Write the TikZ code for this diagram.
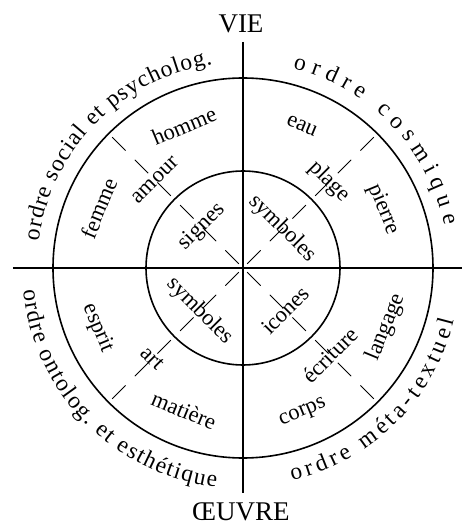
\documentclass[tikz,border=0pt]{standalone}
\usepackage{fontspec}
\setmainfont{Liberation Serif}
\usetikzlibrary{decorations.text}

\begin{document}
\begin{tikzpicture}[x=1pt, y=1pt, every node/.style={font=\fontsize{22.5}{26}\selectfont, inner sep=0pt},
	pole/.style={font=\fontsize{27}{31}\selectfont},
	ring/.style={line width=1.6pt},
	axis/.style={line width=1.1pt},
	cut/.style={line width=0.8pt, dash pattern=on 19pt off 13pt, dash phase=26pt},
	arctext/.style={decorate, decoration={text along path, text align={fit to path}, text={|\fontsize{23.5}{27}\selectfont|#1}}}]
	\useasboundingbox (-243,-262) rectangle (219,268);
	\coordinate (O) at (0,0);
	\coordinate (top) at (0,226);
	\coordinate (bot) at (0,-225);
	\coordinate (left) at (-230,0);
	\coordinate (right) at (219,0);
	\draw[ring] (O) circle (97);
	\draw[ring] (O) circle (190);
	\draw[axis] (top) -- (bot);
	\draw[axis] (left) -- (right);
	\foreach \a in {45,135,225,315} {\draw[cut] (O) -- (\a:190);}
	\node[pole] (vie) at (-2,244) {VIE};
	\node[pole] (oeuvre) at (-2,-244) {ŒUVRE};
	\foreach \name/\a/\r/\rot/\txt in {signes/135/58/45/signes, symbA/45/56/-45/symboles, symbB/225/61/-45/symboles, icones/315/60/45/icones,
		amour/135/124/45/amour, plage/45/122/-45/plage, art/225/128/-45/art, ecriture/315/123/45/écriture,
		homme/112.5/154/22.5/homme, femme/157.5/156/67.5/femme, eau/67.5/154/-22.5/eau, pierre/22.5/152/-67.5/pierre,
		esprit/202.5/157/-67.5/esprit, matiere/247.5/154/-22.5/matière, langage/-22.5/155/67.5/langage, corps/-67.5/157/22.5/corps}
		{\node[rotate=\rot] (\name) at (\a:\r) {\txt};}
	\path[arctext={ordre social et psycholog.}] (172.5:206) arc[start angle=172.5, end angle=98.5, radius=206];
	\path[arctext={ordre cosmique}] (76:206) arc[start angle=76, end angle=12, radius=206];
	\path[arctext={ordre ontolog. et esthétique}] (185.8:221) arc[start angle=185.8, end angle=263, radius=221];
	\path[arctext={ordre méta-textuel}] (283:218) arc[start angle=283, end angle=346, radius=218];
\end{tikzpicture}
\end{document}
